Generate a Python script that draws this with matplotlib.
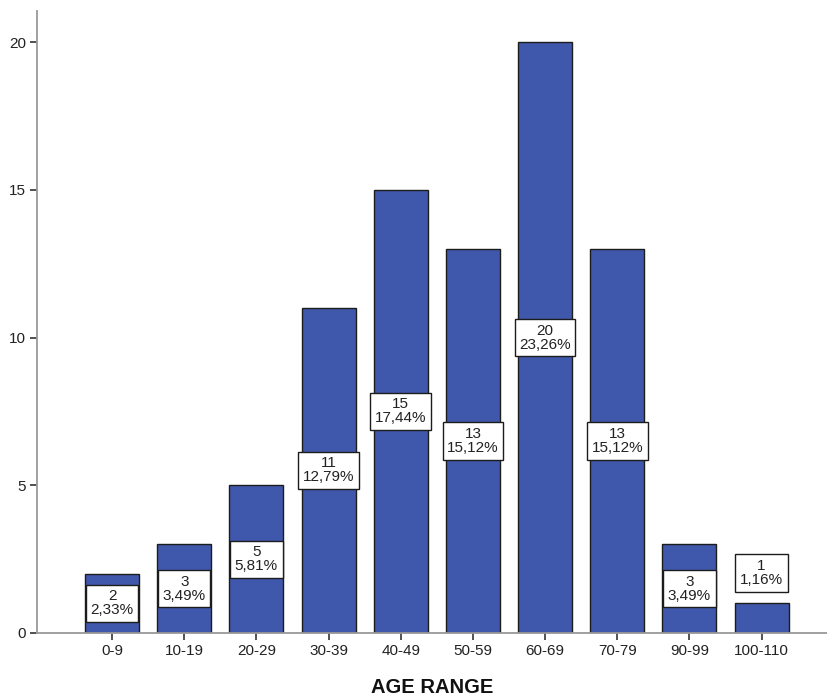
import matplotlib
matplotlib.use('Agg')
import matplotlib.pyplot as plt

# Counts per age range
categories = ['0-9', '10-19', '20-29', '30-39', '40-49', '50-59',
              '60-69', '70-79', '90-99', '100-110']
counts = [2, 3, 5, 11, 15, 13, 20, 13, 3, 1]
y_ticks = [0, 5, 10, 15, 20]

total = sum(counts)

plt.rcParams['font.family'] = ['Liberation Sans', 'DejaVu Sans']

fig = plt.figure(figsize=(8.28, 6.95), dpi=100)
ax = fig.add_axes([37 / 828, 1 - 633 / 695, 1 - 37 / 828, (633 - 11) / 695])

x = list(range(len(categories)))
ax.bar(x, counts, width=0.75, color='#3F58AB', edgecolor='#1c1c1c', linewidth=1.0, zorder=2)

for xi, c in zip(x, counts):
    pct = f"{c / total * 100:.2f}".replace('.', ',')
    # label sits in the middle of the bar, or above it when the bar is too short
    ypos = c / 2 if c >= 2 else c + 1.03
    ax.text(xi, ypos, f"{c}\n{pct}%", ha='center', va='center', fontsize=11,
            color='#222222', linespacing=1.0, zorder=3,
            bbox=dict(boxstyle='square,pad=0.3', facecolor='white',
                      edgecolor='#1c1c1c', linewidth=1.0))

ax.set_xlim(-1.04, 9.92)
ax.set_ylim(0, 21.05)
ax.set_xticks(x)
ax.set_xticklabels(categories)
ax.set_yticks(y_ticks)
ax.tick_params(axis='both', direction='out', length=5, width=1.2, color='#333333',
               labelsize=11, labelcolor='#222222', pad=3)

for side in ['top', 'right']:
    ax.spines[side].set_visible(False)
for side in ['left', 'bottom']:
    ax.spines[side].set_color('#999999')
    ax.spines[side].set_linewidth(1.3)

ax.set_xlabel('AGE RANGE', fontsize=14.5, fontweight='bold', color='#111111', labelpad=14)

fig.savefig('out.png', dpi=100)
